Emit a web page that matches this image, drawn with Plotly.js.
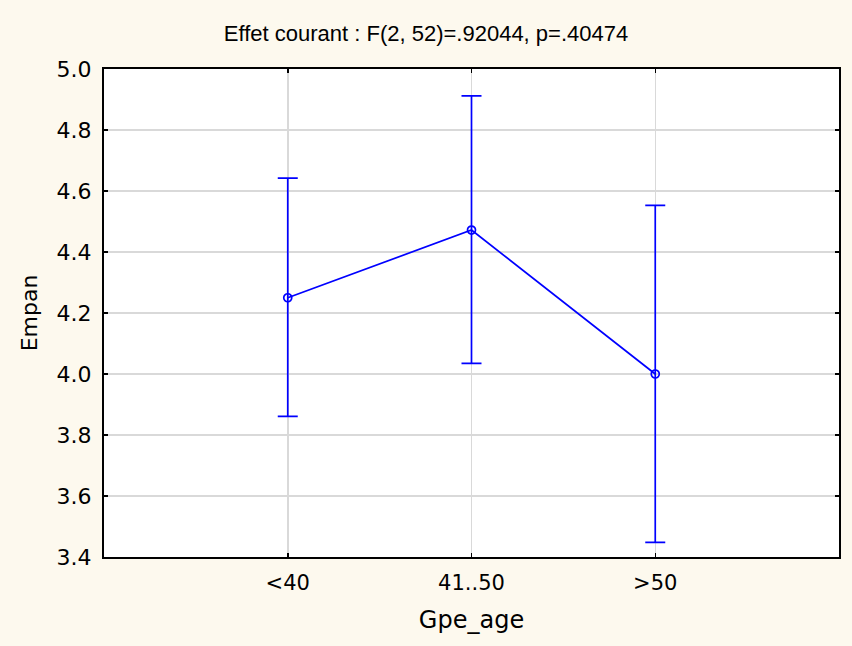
<!DOCTYPE html>
<html>
<head>
<meta charset="utf-8">
<script src="https://cdn.plot.ly/plotly-3.0.1.min.js"></script>
<style>html,body{margin:0;padding:0;background:#fdf9ee;}</style>
</head>
<body>
<div id="chart" style="width:852px;height:646px;"></div>
<script>
var categories = ["<40", "41..50", ">50"];
var means = [4.25, 4.472, 4.0];
var upper = [4.642, 4.912, 4.553];
var lower = [3.861, 4.035, 3.448];
var titleText = "Effet courant : F(2, 52)=.92044, p=.40474";

var plus = means.map(function(m, i){ return upper[i] - m; });
var minus = means.map(function(m, i){ return m - lower[i]; });

var trace = {
  x: categories,
  y: means,
  type: "scatter",
  mode: "lines+markers",
  line: {color: "#0000ff", width: 1.7},
  marker: {symbol: "circle-open", size: 8, color: "#0000ff", line: {width: 1.7, color: "#0000ff"}},
  error_y: {type: "data", symmetric: false, array: plus, arrayminus: minus, color: "#0000ff", thickness: 1.7, width: 10},
  cliponaxis: false,
  showlegend: false
};

var axisFont = "DejaVu Sans, Verdana, sans-serif";

var layout = {
  width: 852, height: 646,
  paper_bgcolor: "#fdf9ee",
  plot_bgcolor: "#ffffff",
  margin: {l: 104, r: 13, t: 69, b: 89},
  title: {text: titleText, x: 0.5, xanchor: "center", y: 0.948, yanchor: "middle",
          font: {family: "Liberation Sans Narrow, Arial Narrow, Liberation Sans, Arial", size: 22, color: "#000"}},
  font: {family: axisFont, color: "#000"},
  xaxis: {
    type: "category",
    range: [-1, 3],
    showline: true, linecolor: "#000", linewidth: 2, mirror: "ticks",
    ticks: "inside", ticklen: 4, tickcolor: "#000", tickwidth: 1.5,
    showgrid: true, gridcolor: "#d9d9d9", gridwidth: 1.5,
    tickfont: {family: axisFont, size: 21}, zeroline: false, ticklabelstandoff: 6,
    title: {text: "Gpe_age", font: {family: axisFont, size: 24}, standoff: 17}
  },
  yaxis: {
    range: [3.4, 5.0],
    dtick: 0.2, tick0: 3.4, tickformat: ".1f",
    showline: true, linecolor: "#000", linewidth: 2, mirror: "ticks",
    ticks: "inside", ticklen: 4, tickcolor: "#000", tickwidth: 1.5,
    showgrid: true, gridcolor: "#d9d9d9", gridwidth: 1.5,
    tickfont: {family: axisFont, size: 22}, zeroline: false, ticklabelstandoff: 6,
    title: {text: "Empan", font: {family: axisFont, size: 22}, standoff: 13}
  }
};

Plotly.newPlot("chart", [trace], layout, {displayModeBar: false, staticPlot: true});
</script>
</body>
</html>
